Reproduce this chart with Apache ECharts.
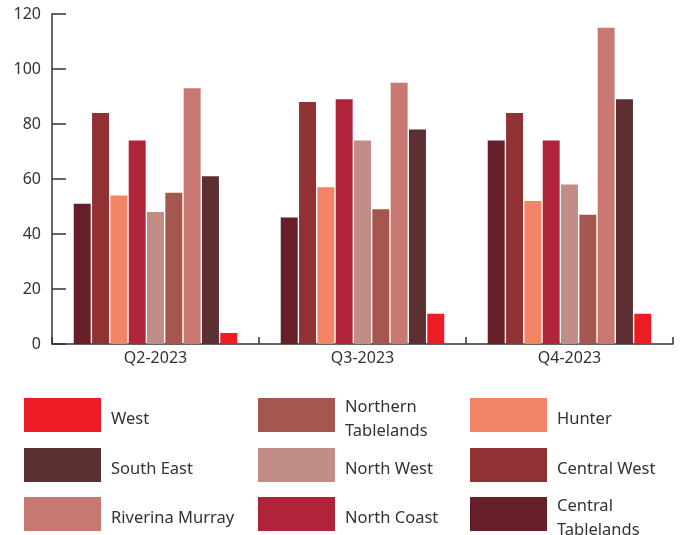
<!DOCTYPE html>
<html>
<head>
<meta charset="utf-8">
<script src="https://cdn.jsdelivr.net/npm/echarts@6/dist/echarts.min.js"></script>
<style>
  html, body { margin: 0; padding: 0; background: #fff; }
  #chart { width: 686px; height: 535px; }
</style>
</head>
<body>
<div id="chart"></div>
<script>
// Quarterly figures by region
const categories = ['Q2-2023', 'Q3-2023', 'Q4-2023'];
const yTicks = [0, 20, 40, 60, 80, 100, 120];

const centralTablelands = [51, 46, 74];
const centralWest = [84, 88, 84];
const hunter = [54, 57, 52];
const northCoast = [74, 89, 74];
const northWest = [48, 74, 58];
const northernTablelands = [55, 49, 47];
const riverinaMurray = [93, 95, 115];
const southEast = [61, 78, 89];
const west = [4, 11, 11];

const regions = [
  { name: 'Central Tablelands', data: centralTablelands, color: '#661e29' },
  { name: 'Central West', data: centralWest, color: '#903234' },
  { name: 'Hunter', data: hunter, color: '#f48466' },
  { name: 'North Coast', data: northCoast, color: '#b0243a' },
  { name: 'North West', data: northWest, color: '#c18d84' },
  { name: 'Northern Tablelands', data: northernTablelands, color: '#a5574f' },
  { name: 'Riverina Murray', data: riverinaMurray, color: '#c87871' },
  { name: 'South East', data: southEast, color: '#5c3032' },
  { name: 'West', data: west, color: '#ed1c24' }
];

// Legend grid: three columns by three rows
const legendColumns = [
  ['West', 'South East', 'Riverina Murray'],
  ['Northern Tablelands', 'North West', 'North Coast'],
  ['Hunter', 'Central West', 'Central Tablelands']
];
const columnLeft = [24, 258, 470];
const rowTop = [398, 448, 497];
const wrapped = {
  'Northern Tablelands': ['Northern', 'Tablelands'],
  'Central Tablelands': ['Central', 'Tablelands']
};

const font = '"Noto Sans", "Open Sans", sans-serif';
const ink = '#333333';

const swatchH = 34;
const lineH = 24;
const shiftDown = 4;

const legends = [];
legendColumns.forEach((names, c) => {
  names.forEach((name, r) => {
    const lines = wrapped[name] || [name];
    // rich text, padded on top so each label sits a little below the swatch centre
    const label = lines.map(l => '{t|' + l + '}').join('\n');
    legends.push({
      left: columnLeft[c],
      top: rowTop[r],
      padding: 0,
      itemWidth: 77,
      itemHeight: swatchH,
      icon: 'rect',
      selectedMode: false,
      data: [name],
      formatter: () => label,
      textStyle: {
        fontFamily: font,
        fontSize: 16.5,
        color: ink,
        padding: [2 * shiftDown, 0, 0, 5],
        rich: {
          t: { fontFamily: font, fontSize: 16.5, color: ink, lineHeight: lineH }
        }
      }
    });
  });
});

const chart = echarts.init(document.getElementById('chart'), null, { renderer: 'canvas' });

chart.setOption({
  animation: false,
  backgroundColor: '#ffffff',
  textStyle: { fontFamily: font },
  grid: { left: 52, right: 13, top: 14, bottom: 191, containLabel: false },
  legend: legends,
  xAxis: {
    type: 'category',
    data: categories,
    axisLine: { show: true, lineStyle: { color: ink, width: 1.5 } },
    axisTick: { show: true, inside: true, length: 7, lineStyle: { color: ink, width: 1.5 } },
    axisLabel: { fontFamily: font, fontSize: 16, color: ink, margin: 6 },
    splitLine: { show: false }
  },
  yAxis: {
    type: 'value',
    min: yTicks[0],
    max: yTicks[yTicks.length - 1],
    interval: yTicks[1] - yTicks[0],
    axisLine: { show: true, lineStyle: { color: ink, width: 1.5 } },
    axisTick: { show: true, inside: true, length: 14, lineStyle: { color: ink, width: 1.5 } },
    axisLabel: { fontFamily: font, fontSize: 16, color: ink, margin: 11 },
    splitLine: { show: false }
  },
  series: regions.map(r => ({
    name: r.name,
    type: 'bar',
    data: r.data,
    barGap: '8%',
    barCategoryGap: '21%',
    itemStyle: { color: r.color }
  }))
});
</script>
</body>
</html>
